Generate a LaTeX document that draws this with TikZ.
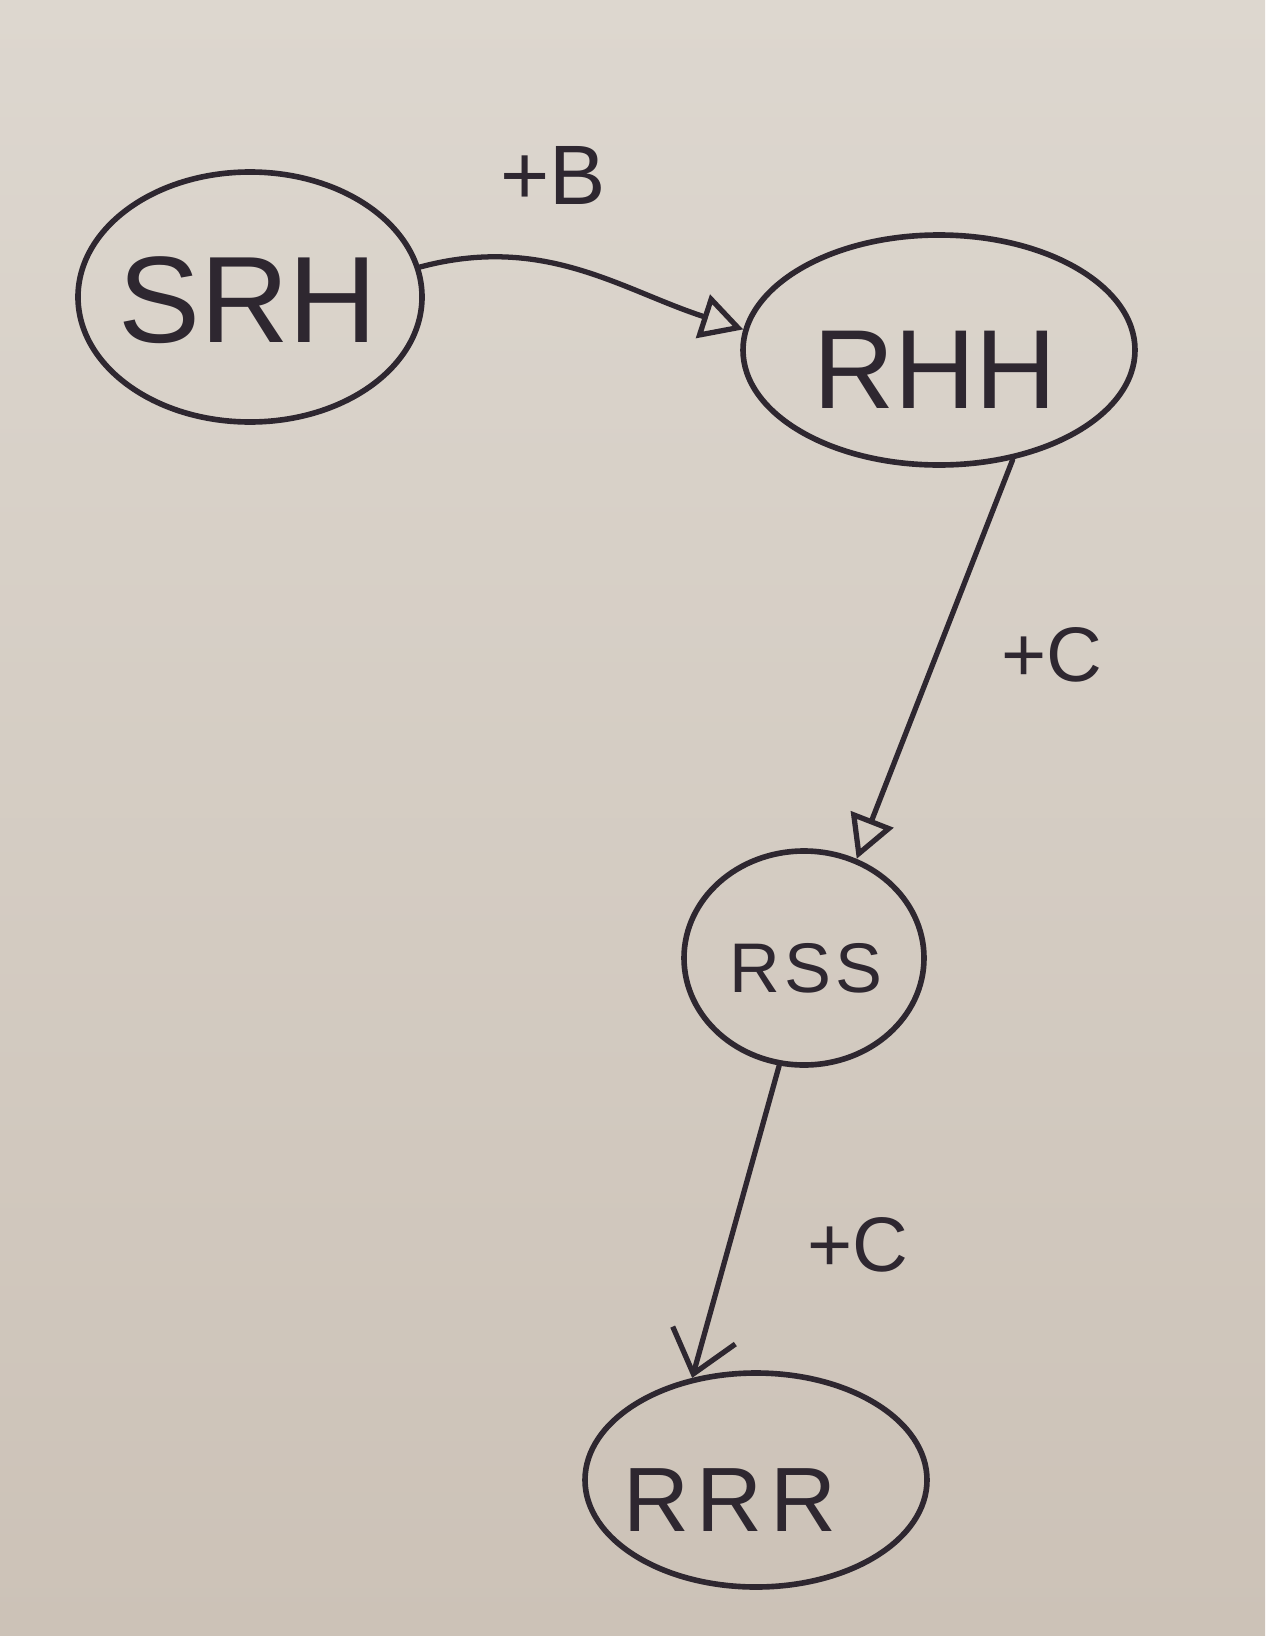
\documentclass[tikz,border=0pt]{standalone}
\usepackage{fontspec}
\setmainfont{Liberation Sans}
\usetikzlibrary{shapes.geometric,arrows.meta}
\definecolor{ink}{HTML}{2E2730}
\definecolor{papertop}{HTML}{DDD7CF}
\definecolor{paperbot}{HTML}{CCC2B7}
\tikzset{
  ell/.style={ellipse, draw=ink, line width=3.2pt, inner sep=0pt},
  edge/.style={draw=ink, line width=3pt, line cap=round},
  lbl/.style={text=ink, inner sep=0pt},
  tri/.style={-{Triangle[open, length=0.85cm, width=0.9cm]}},
  barb/.style={-{Straight Barb[length=0.8cm, width=1.3cm]}}
}
\begin{document}
\begin{tikzpicture}[x=0.02cm, y=-0.02cm]
\useasboundingbox (0,0) rectangle (1265,1636);
\shade[top color=papertop, bottom color=paperbot] (0,0) rectangle (1265,1636);

\node[ell, minimum width=344*0.02cm, minimum height=250*0.02cm] (srh) at (250,297) {};
\node[ell, minimum width=392*0.02cm, minimum height=230*0.02cm] (rhh) at (939,350) {};
\node[ell, minimum width=240*0.02cm, minimum height=214*0.02cm] (rss) at (804,958) {};
\node[ell, minimum width=342*0.02cm, minimum height=214*0.02cm] (rrr) at (756,1480) {};

\node[lbl] (srht) at (248,300) {\fontsize{70}{80}\selectfont SRH};
\node[lbl] (rhht) at (935,370) {\fontsize{64}{74}\selectfont RHH};
\node[lbl] (rsst) at (806,968) {\fontsize{40}{48}\selectfont\addfontfeatures{LetterSpace=6}RSS};
\node[lbl] (rrrt) at (730,1500) {\fontsize{52}{60}\selectfont\addfontfeatures{LetterSpace=8}RRR};

\node[lbl] (lb) at (553,175) {\fontsize{48}{54}\selectfont +B};
\node[lbl] (lc1) at (1052,655) {\fontsize{44}{50}\selectfont +C};
\node[lbl] (lc2) at (858,1245) {\fontsize{44}{50}\selectfont +C};

\draw[edge, tri] (srh.10) to[out=15, in=162] (rhh.174);
\draw[edge, tri] (rhh.-56) -- (rss.62);
\draw[edge, barb] (rss.-103) -- (rrr.122);
\end{tikzpicture}
\end{document}
